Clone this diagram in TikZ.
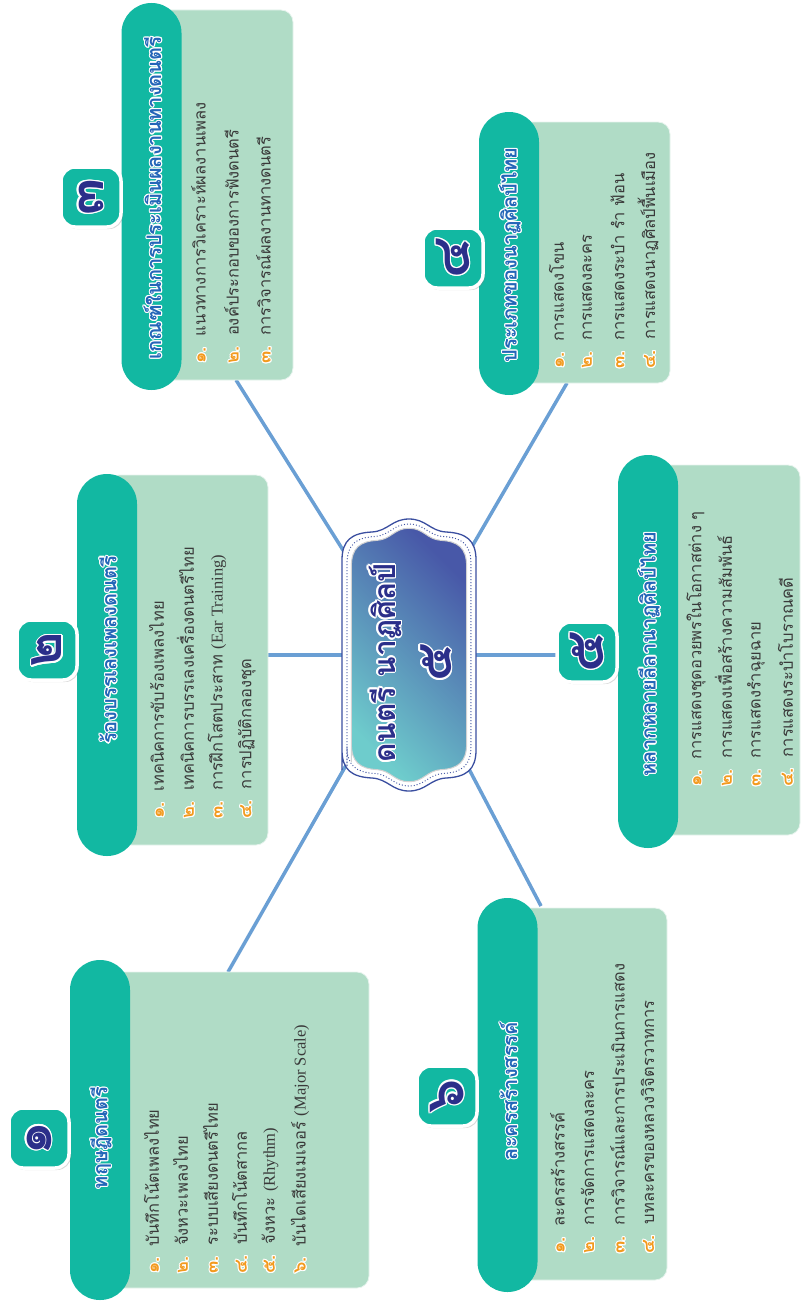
\documentclass[tikz,border=0pt]{standalone}
\usepackage{fontspec}
\setmainfont{Loma}[Script=Thai]
\newfontfamily\latinserif{Liberation Serif}
\usetikzlibrary{shadows}
\definecolor{teal1}{HTML}{12B8A2}
\definecolor{mint}{HTML}{B0DCC6}
\definecolor{navy}{HTML}{2B2F8A}
\definecolor{tblue}{HTML}{2466B8}
\definecolor{orng}{HTML}{F39A1E}
\definecolor{lineblue}{HTML}{6A9FD4}
\definecolor{txt}{HTML}{3A3A3A}
\definecolor{cborder}{HTML}{3B4FA0}
\definecolor{gradlo}{HTML}{6ECCCC}
\definecolor{gradhi}{HTML}{4858A8}
\pgfdeclarelayer{bg}
\pgfsetlayers{bg,main}
\newcommand\halo[4]{%
  \foreach \ang in {0,30,...,330}{%
    \pgfmathsetlengthmacro\hx{#2*cos(\ang)}%
    \pgfmathsetlengthmacro\hy{#2*sin(\ang)}%
    \rlap{\hspace*{\hx}\raisebox{\hy}{\color{#1}#4}}}%
  \textcolor{#3}{#4}}
\newcommand\nm[1]{{\bfseries\fontsize{18}{20}\selectfont\halo{white}{1.0}{orng}{#1}}}
\newcommand\lat[1]{{\latinserif #1}}
\newcommand\cshapepath[1]{\path[#1] (-67,115) -- (-67,-95) .. controls (-67,-115) and (-57,-122) .. (-37,-123) .. controls (-21,-124) and (-17,-136) .. (0,-136) .. controls (17,-136) and (21,-124) .. (37,-123) .. controls (57,-122) and (67,-115) .. (67,-95) -- (67,95) .. controls (67,115) and (57,122) .. (37,123) .. controls (21,124) and (17,136) .. (0,136) .. controls (-17,136) and (-21,124) .. (-37,123) .. controls (-57,122) and (-67,115) .. (-67,95) -- cycle;}
\tikzset{
  bodybox/.style={fill=mint, draw=white!70!mint, line width=0.8, rounded corners=12, inner sep=0},
  pill/.style={fill=teal1, rounded corners=29.9, inner sep=0, minimum width=60},
  iconbox/.style={fill=teal1, draw=white, line width=3.5, rounded corners=14, minimum width=60, minimum height=60, inner sep=0, rotate=90,
    drop shadow={opacity=0.3, shadow xshift=2pt, shadow yshift=-2pt}, font=\fontsize{54}{58}\selectfont\bfseries},
  ttl/.style={rotate=90, inner sep=0, font=\fontsize{20}{24}\selectfont\bfseries},
  item/.style={rotate=90, anchor=west, inner sep=0, text=txt, font=\fontsize{16.5}{20}\selectfont},
  conn/.style={draw=lineblue, line width=3.5}
}
\newcommand\itm[4]{\node[item] (#1) at (#2) {\nm{#3}\hspace{11pt}#4};}
\begin{document}
\begin{tikzpicture}[x=1pt,y=-1pt]
\useasboundingbox (0,0) rectangle (803,1306);
% ---------- centre ----------
\begin{scope}[shift={(409,655)}]
  \cshapepath{fill=white, draw=cborder, line width=1.3}
  \begin{scope}[xscale=0.925, yscale=0.963]
    \cshapepath{draw=cborder, line width=1.3, dash pattern=on 0pt off 3pt, line cap=round}
  \end{scope}
  \begin{scope}[xscale=0.86, yscale=0.932]
    \cshapepath{top color=gradhi, bottom color=gradlo, shading angle=-45, draw=gray!35, line width=1}
  \end{scope}
\end{scope}
\node[inner sep=0, minimum width=134, minimum height=272] (c) at (409,655) {};
\node[rotate=90, inner sep=0, font=\fontsize{30}{34}\selectfont\bfseries] (ct) at (385,663) {\halo{white}{1.6}{navy}{ดนตรี นาฏศิลป์}};
\node[rotate=90, inner sep=0, font=\fontsize{50}{54}\selectfont\bfseries] (cn) at (436,663) {\halo{white}{1.6}{navy}{๕}};
% ---------- panel 1 ----------
\node[bodybox, minimum width=269, minimum height=316] (b1) at (234.5,1130) {};
\node[pill, minimum height=340] (p1) at (100,1130) {};
\node[iconbox] (n1) at (39,1138) {\halo{white}{1.4}{navy}{๑}};
\node[ttl] (t1) at (101,1138) {\halo{white}{1.1}{tblue}{ทฤษฎีดนตรี}};
\itm{i11}{152,1274}{๑.}{บันทึกโน้ตเพลงไทย}
\itm{i12}{181,1274}{๒.}{จังหวะเพลงไทย}
\itm{i13}{211,1274}{๓.}{ระบบเสียงดนตรีไทย}
\itm{i14}{240,1274}{๔.}{บันทึกโน้ตสากล}
\itm{i15}{270,1274}{๕.}{จังหวะ \lat{(Rhythm)}}
\itm{i16}{300,1274}{๖.}{บันไดเสียงเมเจอร์ \lat{(Major Scale)}}
% ---------- panel 2 ----------
\node[bodybox, minimum width=161, minimum height=370] (b2) at (187.5,660) {};
\node[pill, minimum height=382] (p2) at (107,665) {};
\node[iconbox] (n2) at (47,650) {\halo{white}{1.4}{navy}{๒}};
\node[ttl] (t2) at (108,650) {\halo{white}{1.1}{tblue}{ร้องบรรเลงเพลงดนตรี}};
\itm{i21}{157,819}{๑.}{เทคนิคการขับร้องเพลงไทย}
\itm{i22}{186,819}{๒.}{เทคนิคการบรรเลงเครื่องดนตรีไทย}
\itm{i23}{217,819}{๓.}{การฝึกโสตประสาท \lat{(Ear Training)}}
\itm{i24}{247,819}{๔.}{การปฏิบัติกลองชุด}
% ---------- panel 3 ----------
\node[bodybox, minimum width=142, minimum height=370] (b3) at (222,195) {};
\node[pill, minimum height=387] (p3) at (151.5,196.5) {};
\node[iconbox] (n3) at (91,197) {\halo{white}{1.4}{navy}{๓}};
\node[ttl] (t3) at (152.5,198) {\halo{white}{1.1}{tblue}{เกณฑ์ในการประเมินผลงานทางดนตรี}};
\itm{i31}{199,364}{๑.}{แนวทางการวิเคราะห์ผลงานเพลง}
\itm{i32}{232,364}{๒.}{องค์ประกอบของการฟังดนตรี}
\itm{i33}{264,364}{๓.}{การวิจารณ์ผลงานทางดนตรี}
% ---------- panel 4 ----------
\node[bodybox, minimum width=161, minimum height=261] (b4) at (589.5,252.5) {};
\node[pill, minimum height=283] (p4) at (509,253.5) {};
\node[iconbox] (n4) at (453,258) {\halo{white}{1.4}{navy}{๔}};
\node[ttl] (t4) at (510,255) {\halo{white}{1.1}{tblue}{ประเภทของนาฏศิลป์ไทย}};
\itm{i41}{557,369}{๑.}{การแสดงโขน}
\itm{i42}{587,369}{๒.}{การแสดงละคร}
\itm{i43}{618,369}{๓.}{การแสดงระบำ รำ ฟ้อน}
\itm{i44}{648,369}{๔.}{การแสดงนาฏศิลป์พื้นเมือง}
% ---------- panel 5 ----------
\node[bodybox, minimum width=152, minimum height=370] (b5) at (724,650) {};
\node[pill, minimum height=393] (p5) at (648,651.5) {};
\node[iconbox] (n5) at (587,652) {\halo{white}{1.4}{navy}{๕}};
\node[ttl] (t5) at (649,654) {\halo{white}{1.1}{tblue}{หลากหลายลีลานาฏศิลป์ไทย}};
\itm{i51}{696,787}{๑.}{การแสดงชุดอวยพรในโอกาสต่าง ๆ}
\itm{i52}{724,787}{๒.}{การแสดงเพื่อสร้างความสัมพันธ์}
\itm{i53}{756,787}{๓.}{การแสดงรำฉุยฉาย}
\itm{i54}{786,787}{๔.}{การแสดงระบำโบราณคดี}
% ---------- panel 6 ----------
\node[bodybox, minimum width=160, minimum height=372] (b6) at (587,1094) {};
\node[pill, minimum height=394] (p6) at (507.5,1095) {};
\node[iconbox] (n6) at (447,1096) {\halo{white}{1.4}{navy}{๖}};
\node[ttl] (t6) at (508.5,1091) {\halo{white}{1.1}{tblue}{ละครสร้างสรรค์}};
\itm{i61}{558,1254}{๑.}{ละครสร้างสรรค์}
\itm{i62}{588,1254}{๒.}{การจัดการแสดงละคร}
\itm{i63}{618,1254}{๓.}{การวิจารณ์และการประเมินการแสดง}
\itm{i64}{648,1254}{๔.}{บทละครของหลวงวิจิตรวาทการ}
% ---------- connectors ----------
\coordinate (e1) at (228,972);
\coordinate (e3) at (236,380);
\coordinate (e4) at (567,383);
\coordinate (e6) at (541,906);
\begin{pgfonlayer}{bg}
  \draw[conn] (c.center) -- (e1);
  \draw[conn] (c.center) -- (c.center -| b2.east);
  \draw[conn] (c.center) -- (e3);
  \draw[conn] (c.center) -- (e4);
  \draw[conn] (c.center) -- (c.center -| n5.west);
  \draw[conn] (c.center) -- (e6);
\end{pgfonlayer}
\end{tikzpicture}
\end{document}
